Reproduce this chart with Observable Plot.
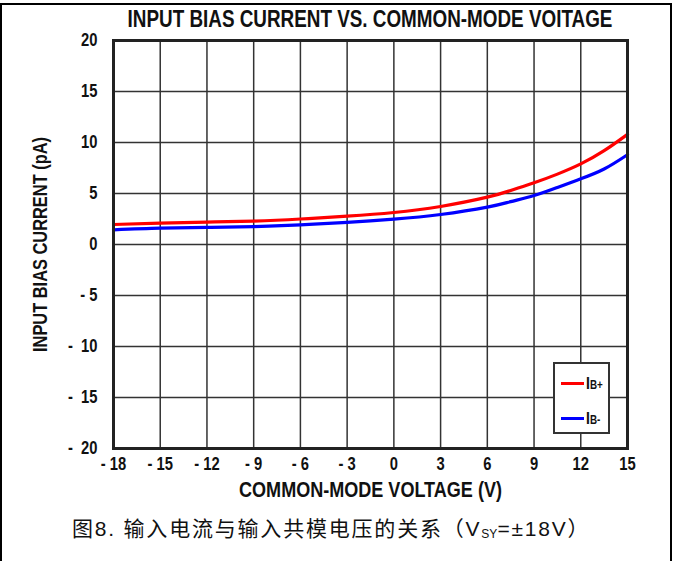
<!DOCTYPE html>
<html>
<head>
<meta charset="utf-8">
<script src="https://cdn.jsdelivr.net/npm/d3@7"></script>
<script src="https://cdn.jsdelivr.net/npm/@observablehq/plot@0.6"></script>
<style>
  html, body { margin: 0; padding: 0; background: #fff; }
  #wrap { position: relative; width: 680px; height: 561px; overflow: hidden; }
  #border { position: absolute; left: 0; top: 3px; width: 668px; height: 620px; border: 2px solid #000; border-bottom: none; }
  #title { position: absolute; left: 70px; width: 600px; top: 6px; text-align: center; font-family: "Liberation Sans", Arial, sans-serif; font-weight: bold; font-size: 23px; line-height: 26px; color: #111; transform: scaleX(0.82); transform-origin: 300px 0; white-space: nowrap; }
  #chart { position: absolute; left: 0; top: 0; }
  #chart svg text { font-weight: bold; }
  #legend { position: absolute; left: 553px; top: 362px; width: 53px; height: 68px; border: 2px solid #333; background: #fff; font-family: "Liberation Sans", Arial, sans-serif; }
  .lg { position: absolute; left: 6px; width: 23px; height: 3px; }
  .lt { position: absolute; left: 31px; font-weight: bold; font-size: 17px; line-height: 1; transform: scaleX(0.82); transform-origin: left center; white-space: nowrap; color: #111; }
  .lt small { font-size: 12px; }
  #caption { position: absolute; left: 72px; top: 518px; font-family: "Liberation Sans", "Noto Sans CJK SC", sans-serif; font-size: 21px; line-height: 1; letter-spacing: 1.8px; color: #111; white-space: nowrap; }
  #caption sub { font-size: 12px; vertical-align: baseline; position: relative; top: 2px; letter-spacing: 0; }
</style>
</head>
<body>
<div id="wrap">
  <div id="border"></div>
  <div id="chart"></div>
  <div id="title"></div>
  <div id="legend">
    <div class="lg" style="top:18px;background:#ff0000"></div>
    <div class="lt" style="top:11px">I<small>B+</small></div>
    <div class="lg" style="top:53px;background:#0000ff"></div>
    <div class="lt" style="top:46px">I<small>B-</small></div>
  </div>
  <div id="caption">图8. 输入电流与输入共模电压的关系（V<sub>SY</sub>=±18V）</div>
</div>
<script>
const titleText = "INPUT BIAS CURRENT VS. COMMON-MODE VOITAGE";
const xLabel = "COMMON-MODE VOLTAGE (V)";
const yLabel = "INPUT BIAS CURRENT (pA)";
const xTicks = [-18, -15, -12, -9, -6, -3, 0, 3, 6, 9, 12, 15];
const yTicks = [-20, -15, -10, -5, 0, 5, 10, 15, 20];
const vcm = [-18, -15, -12, -9, -6, -3, 0, 3, 6, 7.5, 9, 10.5, 12, 13.5, 15];
const ibPlus = [1.96, 2.1, 2.2, 2.3, 2.5, 2.78, 3.14, 3.73, 4.64, 5.3, 6.05, 6.9, 7.9, 9.2, 10.8];
const ibMinus = [1.44, 1.6, 1.67, 1.76, 1.93, 2.16, 2.48, 2.94, 3.66, 4.2, 4.8, 5.6, 6.44, 7.4, 8.8];
const seriesNames = ["IB+", "IB-"];
const seriesColors = ["#ff0000", "#0000ff"];

document.getElementById("title").textContent = titleText;

const data = [];
vcm.forEach((v, i) => {
  data.push({v, i: ibPlus[i], s: seriesNames[0]});
  data.push({v, i: ibMinus[i], s: seriesNames[1]});
});
const fmtX = d => d < 0 ? "- " + (-d) : String(d);
const fmtY = d => d < 0 ? (d <= -10 ? "- \u00a0" : "- ") + (-d) : String(d);
const font = '"Liberation Sans", Arial, sans-serif';

const chart = Plot.plot({
  width: 680,
  height: 500,
  marginLeft: 113,
  marginRight: 53,
  marginTop: 40,
  marginBottom: 52,
  style: {fontFamily: font, color: "#111", background: "transparent", overflow: "visible"},
  x: {domain: [-18, 15]},
  y: {domain: [-20, 20]},
  color: {domain: seriesNames, range: seriesColors},
  marks: [
    Plot.gridX(xTicks, {stroke: "#333", strokeOpacity: 1, strokeWidth: 1.5}),
    Plot.gridY(yTicks, {stroke: "#333", strokeOpacity: 1, strokeWidth: 1.5}),
    Plot.line(data, {x: "v", y: "i", z: "s", stroke: "s", strokeWidth: 3.2, curve: "natural"}),
    Plot.frame({stroke: "#222", strokeWidth: 3}),
    Plot.axisX(xTicks, {tickSize: 0, tickPadding: 9, tickFormat: fmtX, fontSize: 18, label: null}),
    Plot.axisY(yTicks, {tickSize: 0, tickPadding: 16, tickFormat: fmtY, fontSize: 18, label: null}),
    Plot.text([xLabel], {frameAnchor: "bottom", dy: 41, fontSize: 22, lineAnchor: "middle", textAnchor: "middle", fontWeight: "bold"}),
    Plot.text([yLabel], {frameAnchor: "left", dx: -73, rotate: -90, fontSize: 20, lineAnchor: "middle", textAnchor: "middle", fontWeight: "bold"})
  ]
});
document.getElementById("chart").appendChild(chart);
// emulate a narrow (condensed) face by compressing glyphs horizontally
chart.querySelectorAll("text").forEach(t => {
  const len = t.getComputedTextLength();
  if (len > 0) {
    t.setAttribute("textLength", (len * 0.82).toFixed(2));
    t.setAttribute("lengthAdjust", "spacingAndGlyphs");
  }
});
</script>
</body>
</html>
